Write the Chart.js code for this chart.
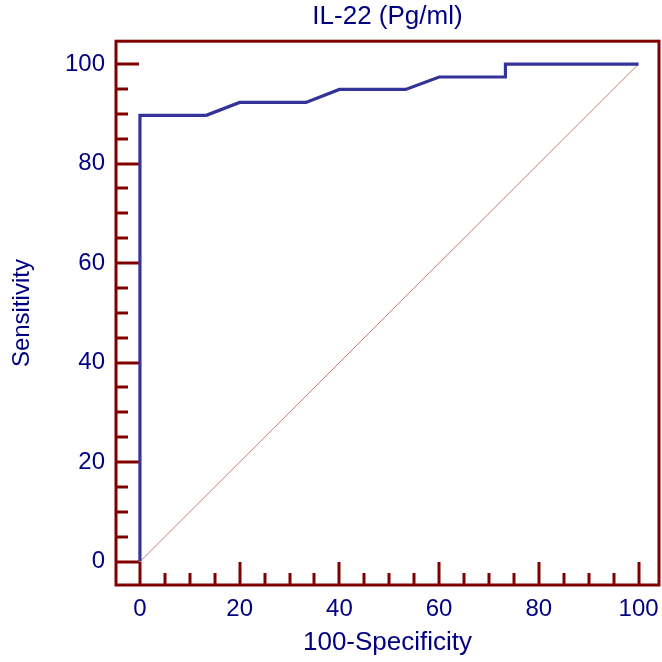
<!DOCTYPE html>
<html>
<head>
<meta charset="utf-8">
<script src="https://cdn.jsdelivr.net/npm/chart.js@4/dist/chart.umd.min.js"></script>
<style>
  html, body { margin: 0; padding: 0; background: #fff; }
</style>
</head>
<body>
<canvas id="rocChart" width="662" height="662"></canvas>
<script>
// ROC curve points
const specComplement = [0, 0, 13.3, 20, 33.3, 40, 53.3, 60, 73.3, 73.3, 100];
const sensitivity = [0, 89.7, 89.7, 92.3, 92.3, 94.9, 94.9, 97.4, 97.4, 100, 100];

// reference diagonal
const diagX = [0, 100];
const diagY = [0, 100];

const xTicks = [0, 20, 40, 60, 80, 100];
const yTicks = [0, 20, 40, 60, 80, 100];
const minorStep = 5;

const frameColor = '#800000';
const textColor = '#000080';

// frame around the plot plus tick marks pointing inward
const framePlugin = {
    id: 'frame',
    beforeDatasetsDraw(chart) {
        const ctx = chart.ctx;
        const area = chart.chartArea;
        const xs = chart.scales.x;
        const ys = chart.scales.y;
        ctx.save();
        ctx.strokeStyle = frameColor;
        ctx.lineWidth = 3;
        ctx.strokeRect(area.left, area.top, area.right - area.left, area.bottom - area.top);

        for (let v = 0; v <= 100; v += minorStep) {
            const major = v % 20 === 0;
            const len = major ? 23 : 12;
            const px = Math.round(xs.getPixelForValue(v));
            ctx.beginPath();
            ctx.moveTo(px, area.bottom);
            ctx.lineTo(px, area.bottom - len);
            ctx.stroke();

            const py = Math.round(ys.getPixelForValue(v));
            ctx.beginPath();
            ctx.moveTo(area.left, py);
            ctx.lineTo(area.left + len, py);
            ctx.stroke();
        }
        ctx.restore();
    }
};

const ctx = document.getElementById('rocChart').getContext('2d');

new Chart(ctx, {
    type: 'scatter',
    data: {
        datasets: [{
            label: 'IL-22',
            data: specComplement.map((x, i) => ({ x: x, y: sensitivity[i] })),
            showLine: true,
            borderColor: '#333399',
            borderWidth: 3.2,
            pointRadius: 0,
            fill: false
        }, {
            label: 'Diagonal',
            data: diagX.map((x, i) => ({ x: x, y: diagY[i] })),
            showLine: true,
            borderColor: '#cc7777',
            borderWidth: 1,
            pointRadius: 0,
            fill: false
        }]
    },
    options: {
        responsive: false,
        animation: false,
        layout: { padding: { left: 0, right: 3, top: 0, bottom: 0 } },
        plugins: {
            legend: { display: false },
            tooltip: { enabled: false },
            title: {
                display: true,
                text: 'IL-22 (Pg/ml)',
                fullSize: false,
                color: textColor,
                font: { family: 'Liberation Sans', size: 26, weight: 'normal', lineHeight: 1.2 },
                padding: { top: 1, bottom: 9 }
            }
        },
        scales: {
            x: {
                type: 'linear',
                min: -4.8,
                max: 104.1,
                grid: { display: false, drawTicks: false },
                border: { display: false },
                afterBuildTicks: scale => { scale.ticks = xTicks.map(v => ({ value: v })); },
                afterFit: scale => {
                    scale.height = 77;
                    scale.paddingLeft = 0;
                    scale.paddingRight = 0;
                },
                ticks: {
                    color: textColor,
                    padding: 10,
                    maxRotation: 0,
                    font: { family: 'Liberation Sans', size: 24 }
                },
                title: {
                    display: true,
                    text: '100-Specificity',
                    color: textColor,
                    font: { family: 'Liberation Sans', size: 26 },
                    padding: { top: 5, bottom: 4 }
                }
            },
            y: {
                type: 'linear',
                min: -4.7,
                max: 104.6,
                grid: { display: false, drawTicks: false },
                border: { display: false },
                afterBuildTicks: scale => { scale.ticks = yTicks.map(v => ({ value: v })); },
                afterFit: scale => {
                    scale.width = 116;
                    scale.paddingTop = 0;
                    scale.paddingBottom = 0;
                },
                ticks: {
                    color: textColor,
                    padding: 11,
                    font: { family: 'Liberation Sans', size: 24 }
                },
                title: {
                    display: true,
                    text: 'Sensitivity',
                    color: textColor,
                    font: { family: 'Liberation Sans', size: 24 },
                    padding: { top: 8, bottom: 0 }
                }
            }
        }
    },
    plugins: [framePlugin]
});
</script>
</body>
</html>
